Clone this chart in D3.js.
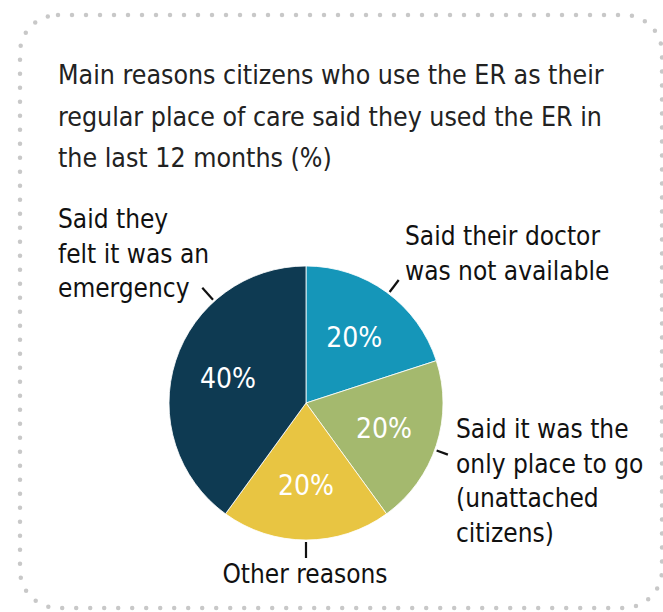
<!DOCTYPE html>
<html>
<head>
<meta charset="utf-8">
<script src="https://cdn.jsdelivr.net/npm/d3@7"></script>
<style>
  body { margin: 0; background: #fff; }
  text { font-family: "Liberation Sans Narrow", "DejaVu Sans Condensed", sans-serif; }
</style>
</head>
<body>
<div id="chart"></div>
<script>
// data
const categories = ["doctor", "onlyPlace", "other", "emergency"];
const values = [20, 20, 20, 40];
const pctLabels = ["20%", "20%", "20%", "40%"];
const labelLines = [
  ["Said their doctor", "was not available"],
  ["Said it was the", "only place to go", "(unattached", "citizens)"],
  ["Other reasons"],
  ["Said they", "felt it was an", "emergency"]
];
const titleLines = [
  "Main reasons citizens who use the ER as their",
  "regular place of care said they used the ER in",
  "the last 12 months (%)"
];

const width = 663, height = 612;
const cx = 306, cy = 403, radius = 137;
const colors = d3.scaleOrdinal()
  .domain(categories)
  .range(["#1596b9", "#a4b96e", "#e8c542", "#0e3a52"]);

const svg = d3.select("#chart").append("svg")
  .attr("width", width)
  .attr("height", height);

// dotted frame
svg.append("rect")
  .attr("x", 20).attr("y", 15)
  .attr("width", 642).attr("height", 593)
  .attr("rx", 38).attr("ry", 38)
  .attr("fill", "none")
  .attr("stroke", "#c8c8c8")
  .attr("stroke-width", 4.5)
  .attr("stroke-linecap", "round")
  .attr("stroke-dasharray", "0 14");

// title
svg.append("text")
  .attr("x", 58).attr("y", 84)
  .attr("font-size", 26.5)
  .attr("fill", "#222")
  .selectAll("tspan")
  .data(titleLines)
  .join("tspan")
  .attr("x", 58)
  .attr("dy", (d, i) => i === 0 ? 0 : 41.5)
  .text(d => d);

const pie = d3.pie().sort(null).value(d => d.value);
const arcs = pie(categories.map((c, i) => ({ key: c, value: values[i], pct: pctLabels[i], lines: labelLines[i] })));

const arc = d3.arc().innerRadius(0).outerRadius(radius);
const labelArc = d3.arc().innerRadius(82).outerRadius(82);

const g = svg.append("g").attr("transform", `translate(${cx},${cy})`);

g.selectAll("path.slice")
  .data(arcs)
  .join("path")
  .attr("class", "slice")
  .attr("d", arc)
  .attr("fill", d => colors(d.data.key))
  .attr("stroke", "#fff")
  .attr("stroke-width", 0.8);

g.selectAll("text.pct")
  .data(arcs)
  .join("text")
  .attr("class", "pct")
  .attr("transform", d => {
    const [x, y] = labelArc.centroid(d);
    return `translate(${x},${y})`;
  })
  .attr("text-anchor", "middle")
  .attr("dy", "0.36em")
  .attr("font-size", 28)
  .attr("fill", "#fff")
  .text(d => d.data.pct);

// leader lines: angle (deg, clockwise from 12 o'clock) per slice
const leaderAngle = { doctor: 37, onlyPlace: 110, other: 180, emergency: 318 };
const leaderLen = { doctor: 15, onlyPlace: 12, other: 16, emergency: 16 };
g.selectAll("line.leader")
  .data(arcs)
  .join("line")
  .attr("class", "leader")
  .each(function (d) {
    const a = leaderAngle[d.data.key] * Math.PI / 180;
    const r0 = radius + 2, r1 = radius + 2 + leaderLen[d.data.key];
    d3.select(this)
      .attr("x1", Math.sin(a) * r0).attr("y1", -Math.cos(a) * r0)
      .attr("x2", Math.sin(a) * r1).attr("y2", -Math.cos(a) * r1);
  })
  .attr("stroke", "#111")
  .attr("stroke-width", 2.2);

// outside labels
const labelPos = {
  doctor: { x: 405, y: 245, anchor: "start" },
  onlyPlace: { x: 456, y: 438, anchor: "start" },
  other: { x: 305, y: 583, anchor: "middle" },
  emergency: { x: 58, y: 228, anchor: "start" }
};
svg.selectAll("text.lbl")
  .data(arcs)
  .join("text")
  .attr("class", "lbl")
  .attr("x", d => labelPos[d.data.key].x)
  .attr("y", d => labelPos[d.data.key].y)
  .attr("text-anchor", d => labelPos[d.data.key].anchor)
  .attr("font-size", 26)
  .attr("fill", "#111")
  .each(function (d) {
    d3.select(this).selectAll("tspan")
      .data(d.data.lines)
      .join("tspan")
      .attr("x", labelPos[d.data.key].x)
      .attr("dy", (t, i) => i === 0 ? 0 : 34.5)
      .text(t => t);
  });
</script>
</body>
</html>
